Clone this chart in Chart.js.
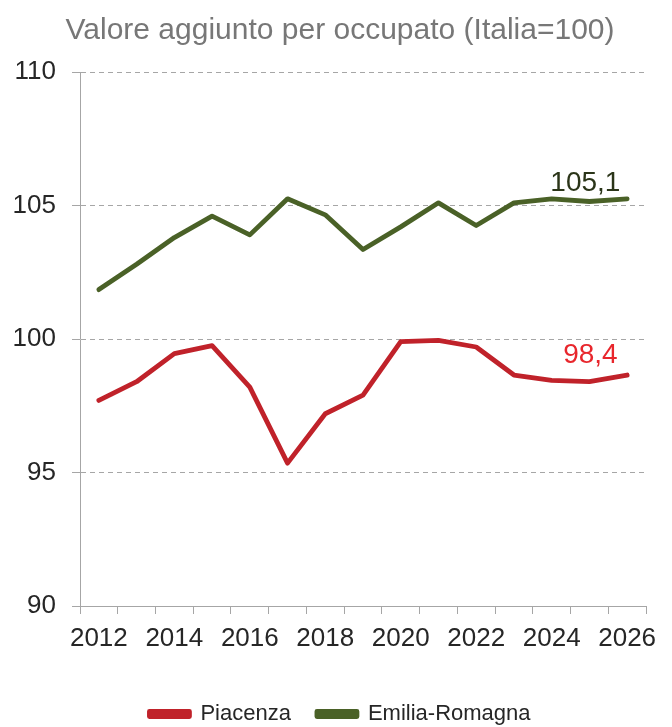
<!DOCTYPE html>
<html>
<head>
<meta charset="utf-8">
<script src="https://cdn.jsdelivr.net/npm/chart.js@4/dist/chart.umd.min.js"></script>
<style>
  html, body { margin: 0; padding: 0; background: #ffffff; overflow: hidden; }
  #wrap { width: 672px; height: 727px; position: relative; }
</style>
</head>
<body>
<div id="wrap"><canvas id="c"></canvas></div>
<script>
// ---- data ----
const years = ['2012','2013','2014','2015','2016','2017','2018','2019','2020','2021','2022','2023','2024','2025','2026'];
const piacenza = [97.7, 98.4, 99.45, 99.75, 98.2, 95.35, 97.2, 97.9, 99.9, 99.95, 99.7, 98.65, 98.45, 98.4, 98.65];
const emiliaRomagna = [101.85, 102.8, 103.8, 104.6, 103.9, 105.25, 104.65, 103.35, 104.2, 105.1, 104.25, 105.1, 105.25, 105.15, 105.25];
const seriesNames = ['Piacenza', 'Emilia-Romagna'];
const endLabels = ['98,4', '105,1'];
const endLabelIndex = 13;
const yTicks = [90, 95, 100, 105, 110];
const titleText = 'Valore aggiunto per occupato (Italia=100)';

const FONT = "'Liberation Sans', Arial, sans-serif";
const GRID = '#a6a6a6';

const endLabelPlugin = {
  id: 'endLabels',
  afterDatasetsDraw(chart) {
    const ctx = chart.ctx;
    const specs = [
      { ds: 0, color: '#e8262c', dx: 1, dy: -19 },
      { ds: 1, color: '#2b3519', dx: -4, dy: -10 }
    ];
    ctx.save();
    ctx.font = '28px ' + FONT;
    ctx.textAlign = 'center';
    ctx.textBaseline = 'alphabetic';
    specs.forEach(s => {
      const pt = chart.getDatasetMeta(s.ds).data[endLabelIndex];
      ctx.fillStyle = s.color;
      ctx.fillText(endLabels[s.ds], pt.x + s.dx, pt.y + s.dy);
    });
    ctx.restore();
  }
};

new Chart(document.getElementById('c'), {
  type: 'line',
  data: {
    labels: years,
    datasets: [
      {
        label: seriesNames[0], data: piacenza,
        borderColor: '#c0222a', backgroundColor: '#c0222a',
        borderWidth: 4.8, pointRadius: 0, tension: 0,
        borderCapStyle: 'round', borderJoinStyle: 'round'
      },
      {
        label: seriesNames[1], data: emiliaRomagna,
        borderColor: '#4a6127', backgroundColor: '#4a6127',
        borderWidth: 4.8, pointRadius: 0, tension: 0,
        borderCapStyle: 'round', borderJoinStyle: 'round'
      }
    ]
  },
  options: {
    responsive: true,
    maintainAspectRatio: false,
    animation: false,
    layout: { padding: { left: 8, right: 0, top: 0, bottom: -8 } },
    plugins: {
      title: {
        display: true, text: titleText, color: '#777777',
        font: { family: FONT, size: 30, weight: 'normal' },
        padding: { top: 13, bottom: 23 }
      },
      legend: {
        position: 'bottom',
        labels: {
          color: '#262626', boxWidth: 40, boxHeight: 5, padding: 26,
          font: { family: FONT, size: 22 }
        }
      },
      tooltip: { enabled: false }
    },
    scales: {
      x: {
        type: 'category',
        offset: true,
        grid: {
          offset: true, drawOnChartArea: false, drawTicks: true,
          tickLength: 8, color: GRID, lineWidth: 1
        },
        border: { display: true, color: GRID, width: 1 },
        ticks: {
          autoSkip: false, maxRotation: 0, minRotation: 0,
          color: '#262626', padding: 9,
          font: { family: FONT, size: 26 },
          callback: function(v, i) { return (i % 2 === 0) ? years[i] : ''; }
        },
        afterFit: function(scale) { scale.height = 71; }
      },
      y: {
        min: 90, max: 110,
        afterBuildTicks: function(scale) { scale.ticks = yTicks.map(v => ({ value: v })); },
        grid: {
          color: GRID, lineWidth: 1, tickLength: 8,
          tickColor: GRID, tickBorderDash: [],
          drawTicks: true
        },
        border: { display: true, color: GRID, width: 1, dash: [5, 4] },
        ticks: {
          color: '#262626', padding: 16,
          font: { family: FONT, size: 26 }
        },
        afterFit: function(scale) { scale.width = 72; }
      },
      yRight: {
        position: 'right',
        display: true,
        grid: { drawOnChartArea: false, drawTicks: false },
        border: { display: false },
        ticks: { display: false },
        afterFit: function(scale) { scale.width = 26; }
      }
    }
  },
  plugins: [endLabelPlugin]
});
</script>
</body>
</html>
